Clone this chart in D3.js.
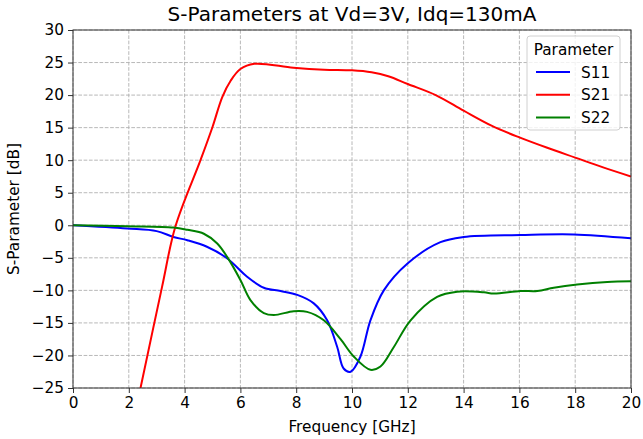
<!DOCTYPE html>
<html>
<head>
<meta charset="utf-8">
<script src="https://cdn.jsdelivr.net/npm/d3@7"></script>
<style>
  body { margin: 0; background: #fff; }
  text { font-family: "DejaVu Sans", sans-serif; fill: #000; }
</style>
</head>
<body>
<div id="chart"></div>
<script>
// frequency in GHz, values in dB
const s11Freq = [0, 1.94, 3.0, 3.6, 4.1, 4.8, 5.53, 6.24, 6.84, 7.44, 8.04, 8.63, 9.11, 9.47, 9.7, 9.95, 10.3, 10.66, 11.14, 11.98, 13.17, 14.0, 16.04, 17.95, 20];
const s11Vals = [0, -0.5, -0.9, -1.8, -2.3, -3.3, -5.1, -7.9, -9.6, -10.1, -10.7, -12.0, -14.6, -18.7, -22.0, -22.5, -20.2, -14.6, -10.0, -5.9, -2.6, -1.8, -1.5, -1.4, -2.0];

const s21Freq = [2.42, 3.19, 3.67, 4.57, 5.0, 5.35, 5.65, 6.0, 6.5, 7.9, 9.0, 10.0, 10.7, 11.3, 12.0, 13.0, 14.0, 15.0, 16.0, 17.0, 18.0, 19.0, 20];
const s21Vals = [-25, -9.5, -0.2, 10, 15.1, 19.7, 22.2, 24.0, 24.8, 24.2, 23.9, 23.8, 23.5, 22.9, 21.7, 20.0, 17.6, 15.3, 13.5, 11.9, 10.4, 8.9, 7.5];

const s22Freq = [0, 1.94, 3.6, 4.1, 4.69, 5.17, 5.53, 6.0, 6.36, 6.84, 7.2, 7.91, 8.39, 8.99, 9.59, 10.07, 10.66, 11.02, 11.5, 12.1, 13.05, 13.77, 14.73, 15.08, 16.04, 16.64, 17.23, 18.07, 19.15, 20];
const s22Vals = [0, -0.15, -0.35, -0.7, -1.3, -2.8, -4.9, -8.4, -11.5, -13.5, -13.8, -13.2, -13.3, -14.6, -17.5, -20.2, -22.2, -21.7, -18.7, -14.6, -11.0, -10.2, -10.3, -10.5, -10.1, -10.1, -9.6, -9.1, -8.7, -8.6];

const seriesNames = ["S11", "S21", "S22"];
const seriesColors = ["#0000ff", "#ff0000", "#008000"];
const xTicks = [0, 2, 4, 6, 8, 10, 12, 14, 16, 18, 20];
const yTicks = [-25, -20, -15, -10, -5, 0, 5, 10, 15, 20, 25, 30];

const series = [
  { name: "S11", freq: s11Freq, vals: s11Vals },
  { name: "S21", freq: s21Freq, vals: s21Vals },
  { name: "S22", freq: s22Freq, vals: s22Vals },
];

const fontSize = "15.3px";

const dimensions = {
  width: 643,
  height: 439,
  margin: { top: 30, right: 12, bottom: 51, left: 73 },
};
dimensions.boundedWidth = dimensions.width - dimensions.margin.left - dimensions.margin.right;
dimensions.boundedHeight = dimensions.height - dimensions.margin.top - dimensions.margin.bottom;

const wrapper = d3.select("#chart")
  .append("svg")
  .attr("width", dimensions.width)
  .attr("height", dimensions.height);

const bounds = wrapper.append("g")
  .attr("transform", `translate(${dimensions.margin.left},${dimensions.margin.top})`);

const xScale = d3.scaleLinear().domain([0, 20]).range([0, dimensions.boundedWidth]);
const yScale = d3.scaleLinear().domain([-25, 30]).range([dimensions.boundedHeight, 0]);

// grid
bounds.append("g").selectAll("line")
  .data(xTicks).join("line")
  .attr("x1", d => xScale(d)).attr("x2", d => xScale(d))
  .attr("y1", 0).attr("y2", dimensions.boundedHeight)
  .attr("stroke", "#b0b0b0").attr("stroke-width", 0.9)
  .attr("stroke-dasharray", "3.7,1.6");
bounds.append("g").selectAll("line")
  .data(yTicks).join("line")
  .attr("x1", 0).attr("x2", dimensions.boundedWidth)
  .attr("y1", d => yScale(d)).attr("y2", d => yScale(d))
  .attr("stroke", "#b0b0b0").attr("stroke-width", 0.9)
  .attr("stroke-dasharray", "3.7,1.6");

// lines
bounds.append("clipPath").attr("id", "clip")
  .append("rect").attr("width", dimensions.boundedWidth).attr("height", dimensions.boundedHeight);

const lineGen = d3.line()
  .x(d => xScale(d[0]))
  .y(d => yScale(d[1]))
  .curve(d3.curveCatmullRom.alpha(0.5));

bounds.append("g").attr("clip-path", "url(#clip)")
  .selectAll("path")
  .data(series).join("path")
  .attr("d", s => lineGen(s.freq.map((f, i) => [f, s.vals[i]])))
  .attr("fill", "none")
  .attr("stroke", (s, i) => seriesColors[i])
  .attr("stroke-width", 2)
  .attr("stroke-linejoin", "round");

// axes
const xAxis = bounds.append("g")
  .attr("transform", `translate(0,${dimensions.boundedHeight})`)
  .call(d3.axisBottom(xScale).tickValues(xTicks).tickSize(5).tickPadding(4).tickSizeOuter(0));
const yAxis = bounds.append("g")
  .call(d3.axisLeft(yScale).tickValues(yTicks).tickSize(5).tickPadding(4).tickSizeOuter(0));
[xAxis, yAxis].forEach(a => {
  a.selectAll("text").style("font-size", fontSize).style("font-family", "DejaVu Sans");
  a.selectAll("line").attr("stroke", "#333").attr("stroke-width", 1);
  a.select(".domain").remove();
});

// spines
bounds.append("rect")
  .attr("width", dimensions.boundedWidth).attr("height", dimensions.boundedHeight)
  .attr("fill", "none").attr("stroke", "#333").attr("stroke-width", 1);

// labels
wrapper.append("text")
  .attr("x", dimensions.margin.left + dimensions.boundedWidth / 2)
  .attr("y", 21)
  .attr("text-anchor", "middle")
  .style("font-size", "20px")
  .text("S-Parameters at Vd=3V, Idq=130mA");

wrapper.append("text")
  .attr("x", dimensions.margin.left + dimensions.boundedWidth / 2)
  .attr("y", 432)
  .attr("text-anchor", "middle")
  .style("font-size", fontSize)
  .text("Frequency [GHz]");

wrapper.append("text")
  .attr("transform", `translate(19,${dimensions.margin.top + dimensions.boundedHeight / 2}) rotate(-90)`)
  .attr("text-anchor", "middle")
  .style("font-size", fontSize)
  .text("S-Parameter [dB]");

// legend
const legend = wrapper.append("g").attr("transform", "translate(527,36)");
legend.append("rect")
  .attr("width", 93).attr("height", 94).attr("rx", 3)
  .attr("fill", "#fff").attr("fill-opacity", 0.8)
  .attr("stroke", "#d0d0d0").attr("stroke-width", 1);
legend.append("text")
  .attr("x", 46.5).attr("y", 19).attr("text-anchor", "middle")
  .style("font-size", fontSize).text("Parameter");
const items = legend.selectAll("g.item").data(seriesNames).join("g")
  .attr("class", "item")
  .attr("transform", (d, i) => `translate(0,${36 + i * 22.7})`);
items.append("line")
  .attr("x1", 9).attr("x2", 43).attr("y1", 0).attr("y2", 0)
  .attr("stroke", (d, i) => seriesColors[i]).attr("stroke-width", 2);
items.append("text")
  .attr("x", 54).attr("y", 5.5)
  .style("font-size", fontSize).text(d => d);
</script>
</body>
</html>
